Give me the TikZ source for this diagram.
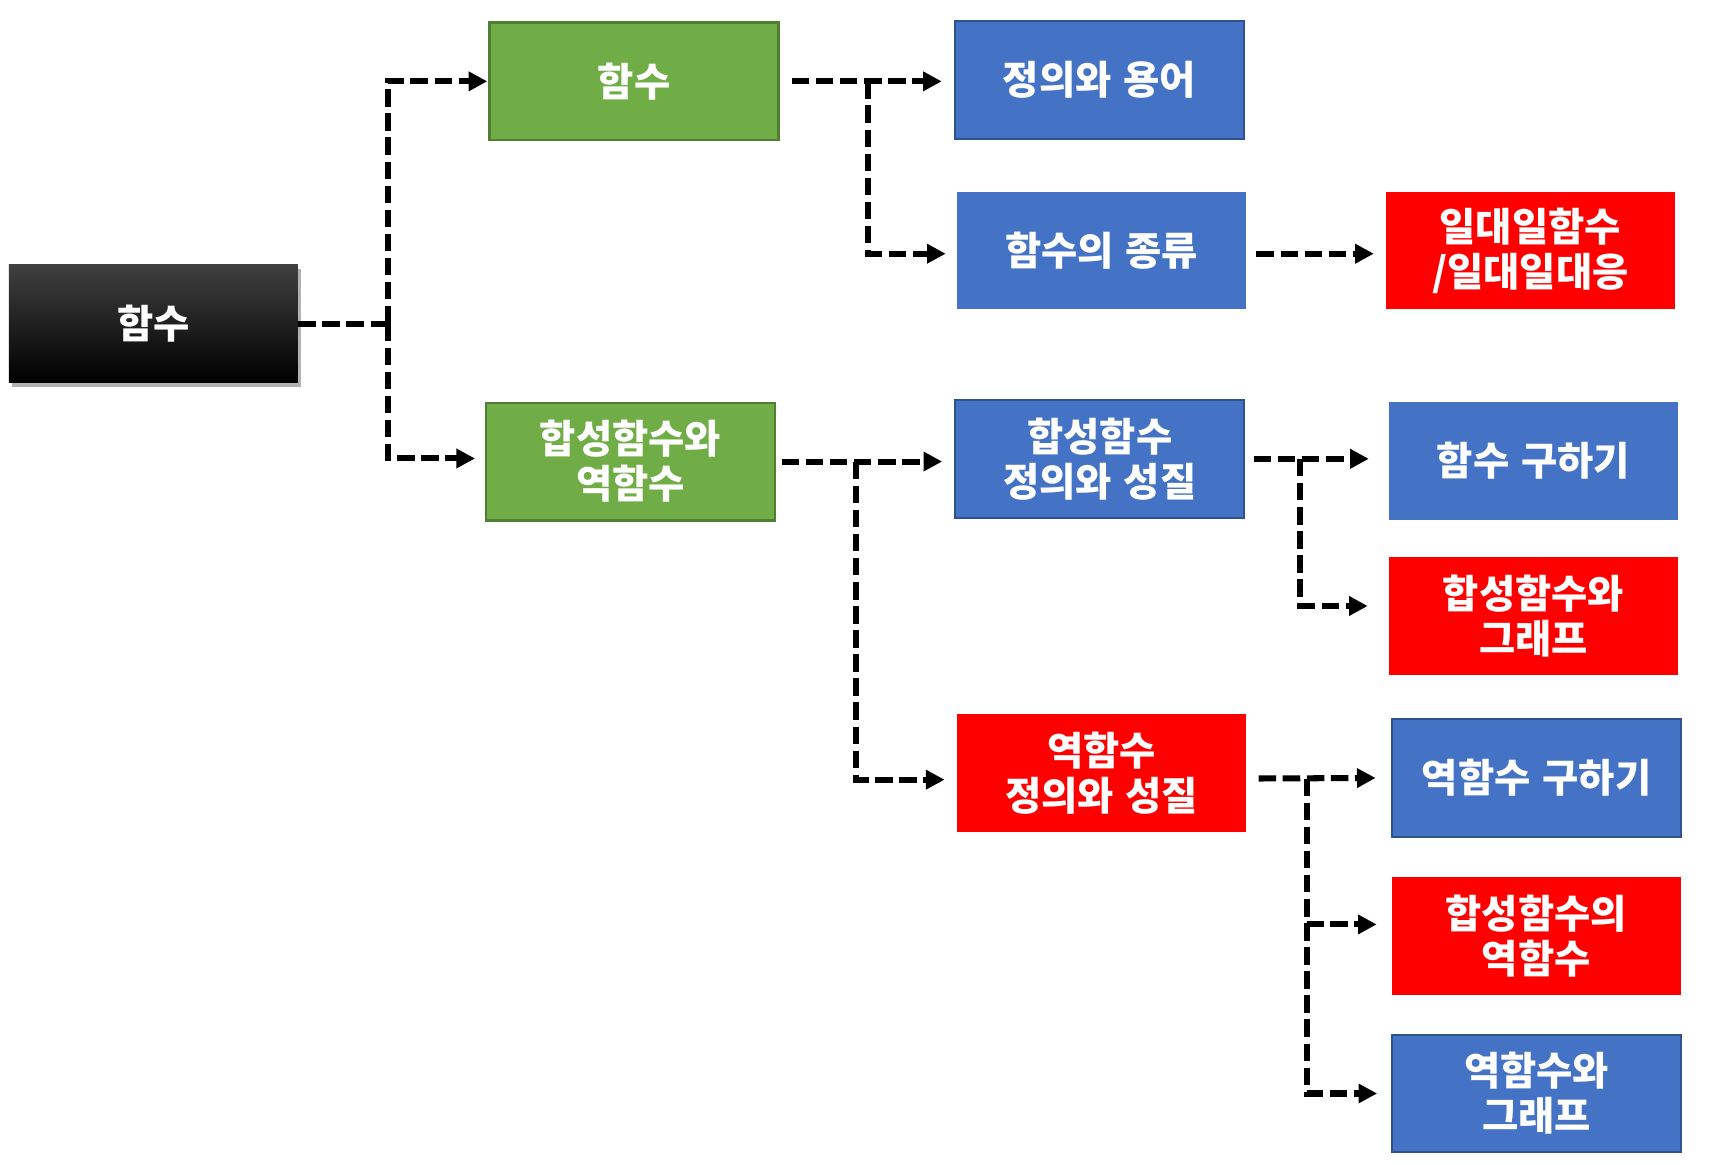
\documentclass[tikz,border=0pt]{standalone}
\usepackage{fontspec}
\newfontfamily\kr{Noto Sans CJK KR}
\newcommand\krboxfont{\kr\bfseries\fontsize{18}{20.5}\selectfont\spaceskip=0.3em\relax}
\usetikzlibrary{arrows.meta,calc,shadows}
\definecolor{cgreen}{HTML}{70AD47}
\definecolor{cgreenD}{HTML}{507E32}
\definecolor{cblue}{HTML}{4472C4}
\definecolor{cblueD}{HTML}{2F528F}
\definecolor{cred}{HTML}{FF0000}
\tikzset{
  box/.style={minimum width=132pt, minimum height=53.75pt, inner sep=0pt, text=white, align=center,
    font=\krboxfont},
  gbox/.style={box, fill=cgreen, draw=cgreenD, line width=1pt},
  bboxB/.style={box, fill=cblue, draw=cblueD, line width=1pt},
  bbox/.style={box, fill=cblue},
  rbox/.style={box, fill=cred},
  kbox/.style={box, top color=black!75, middle color=black, bottom color=black,
    drop shadow={shadow xshift=1.5pt, shadow yshift=-2pt, fill=black, opacity=0.3}},
  conn/.style={line width=2.75pt, dash pattern=on 8pt off 3pt},
  arr/.style={conn, -{Triangle[length=8.5pt,width=8.5pt]}}
}
\begin{document}
\begin{tikzpicture}[x=0.5pt, y=-0.5pt]
\useasboundingbox (0,0) rectangle (1568,1063);
% nodes
\node[kbox] (root) at (140,295.5) {함수};
\node[gbox] (g1) at (579,74.3) {함수};
\node[gbox] (g2) at (575.8,421.5) {합성함수와\\역함수};
\node[bboxB] (b1) at (1004,73) {정의와 용어};
\node[bbox] (b2) at (1006,228.7) {함수의 종류};
\node[rbox] (r1) at (1397.5,228.7) {일대일함수\\/일대일대응};
\node[bboxB] (b3) at (1004.4,419) {합성함수\\정의와 성질};
\node[bbox] (b4) at (1400.4,420.8) {함수 구하기};
\node[rbox] (r2) at (1400.4,562.8) {합성함수와\\그래프};
\node[rbox] (r3) at (1006,706) {역함수\\정의와 성질};
\node[bboxB] (b5) at (1403.2,710.4) {역함수 구하기};
\node[rbox] (r4) at (1403,855) {합성함수의\\역함수};
\node[bboxB] (b6) at (1403.2,998.6) {역함수와\\그래프};
% junctions
\coordinate (jA) at (354,295.5);
\coordinate (jB) at (793,74.3);
\coordinate (jD) at (781.7,421.5);
\coordinate (jE) at (1187.6,419);
\coordinate (jF) at (1194,711);
% connectors
\draw[conn] (root.east) -- (jA);
\draw[arr, shorten >=0.5pt] (jA) |- (g1.west);
\draw[arr, shorten >=4.5pt] (jA) |- ($(g2.west)+(0,-2.8)$);
\draw[arr, shorten <=5.5pt, shorten >=5.5pt] (g1.east) -- (g1.east -| b1.west);
\draw[arr, shorten >=5pt] (jB) |- ($(b2.west)+(0,3)$);
\draw[arr, shorten <=4.5pt, shorten >=5.25pt] ($(b2.east)+(0,3)$) -- ($(r1.west)+(0,3)$);
\draw[arr, shorten <=2.5pt, shorten >=5.5pt] (g2.east) -- (g2.east -| b3.west);
\draw[arr, shorten >=5.5pt] (jD) |- ($(r3.west)+(0,6)$);
\draw[arr, shorten <=3.75pt, shorten >=9pt] (b3.east) -- (b3.east -| b4.west);
\draw[arr, shorten >=9.5pt] (jE) |- ($(r2.west)+(0,-9.4)$);
\draw[arr, shorten <=5.5pt, shorten >=7pt] ($(r3.east)+(0,5)$) -- (b5.west);
\draw[arr, shorten >=6.7pt] (jF) |- ($(r4.west)+(0,-10.8)$);
\draw[arr, shorten >=6.3pt] (jF) |- (b6.west);
\end{tikzpicture}
\end{document}
